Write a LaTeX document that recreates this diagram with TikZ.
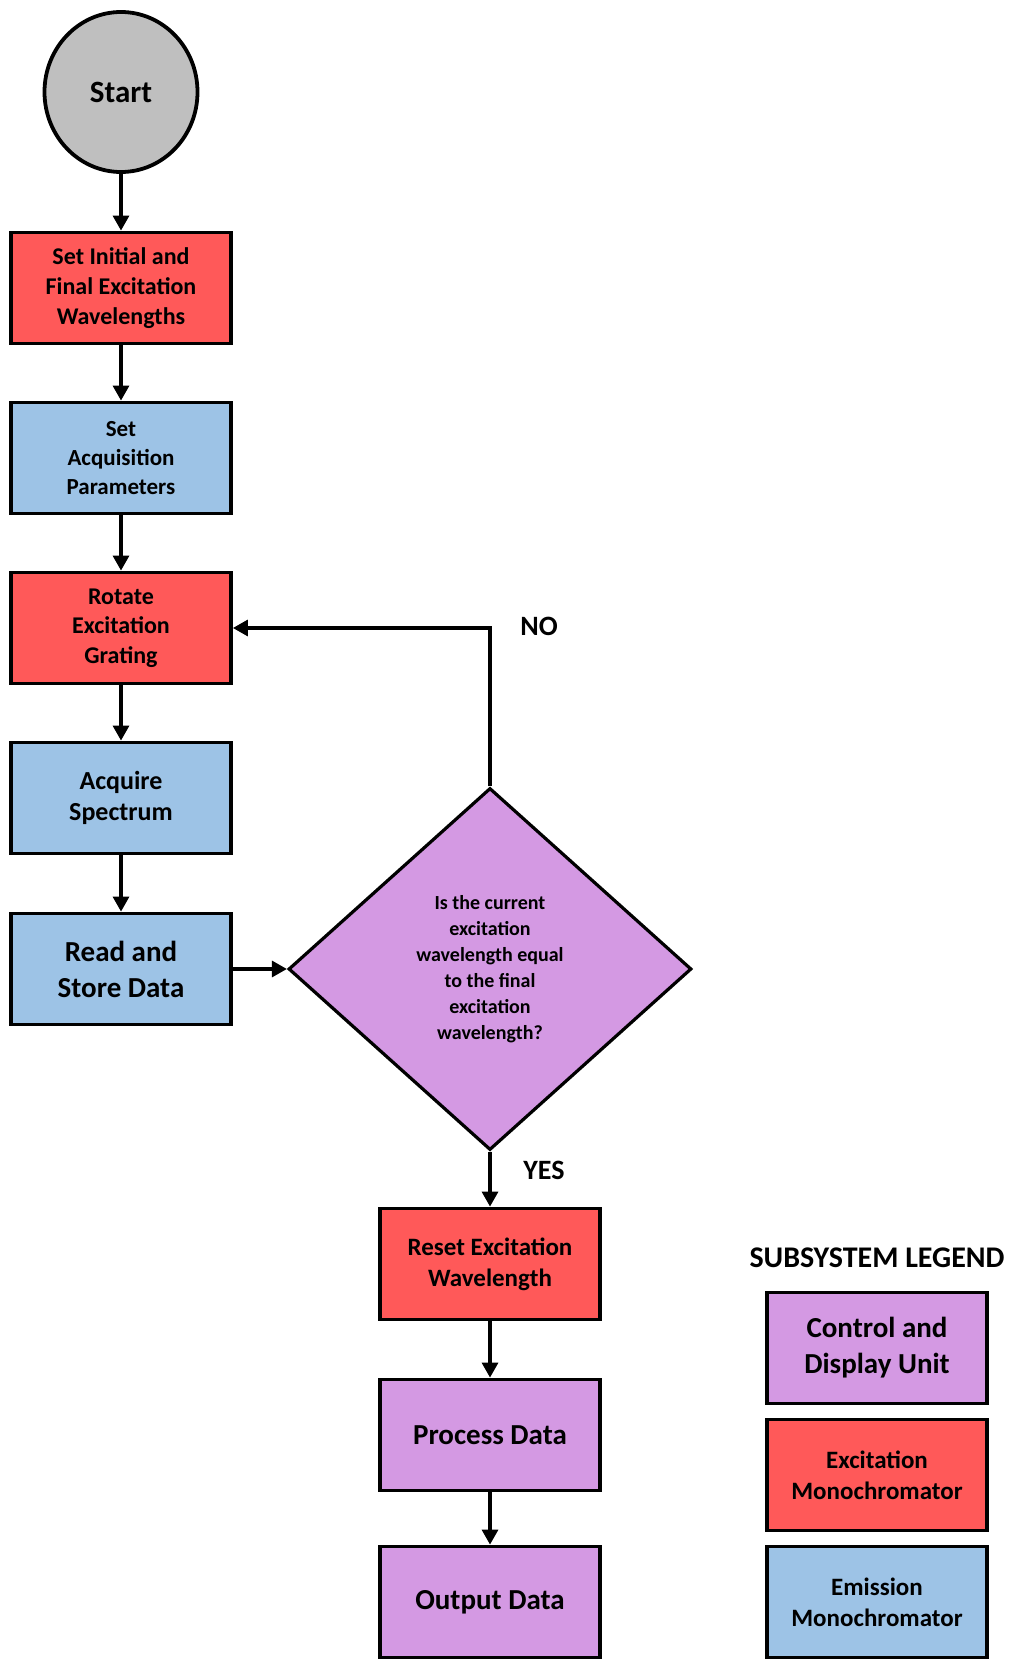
\documentclass[tikz,border=0pt]{standalone}
\usepackage{fontspec}
\setmainfont{Carlito}
\usetikzlibrary{arrows.meta,shapes.geometric}
\definecolor{ExcRed}{RGB}{255,89,89}
\definecolor{EmBlue}{RGB}{157,195,230}
\definecolor{CtrlPurple}{RGB}{212,153,227}
\definecolor{StartGrey}{RGB}{191,191,191}
\tikzset{
  BoxStyle/.style = { rectangle, draw, line width = 3.8pt,
                      minimum width = 220pt, minimum height = 111pt,
                      align = center, inner sep = 2pt },
  RedBox/.style    = { BoxStyle, fill = ExcRed },
  BlueBox/.style   = { BoxStyle, fill = EmBlue },
  PurpleBox/.style = { BoxStyle, fill = CtrlPurple },
  EdgeStyle/.style = { line width = 3.2pt, -{Triangle[width=16pt,length=15pt]} },
  LabelStyle/.style = { font = \bfseries\fontsize{28}{34}\selectfont } }

\begin{document}
\begin{tikzpicture}[x=1pt,y=-1pt]
  \useasboundingbox (0,0) rectangle (1018,1659);
  % main column
  \node[ellipse, draw, line width = 3.8pt, fill = StartGrey,
        minimum width = 153pt, minimum height = 160pt,
        font = \bfseries\fontsize{31}{36}\selectfont] (start) at (121,92) {Start};
  \node[RedBox, font = \bfseries\fontsize{24}{29.6}\selectfont] (init) at (121,288)
       {Set Initial and\\Final Excitation\\Wavelengths};
  \node[BlueBox, font = \bfseries\fontsize{23}{28.6}\selectfont] (acqpar) at (121,458)
       {Set\\Acquisition\\Parameters};
  \node[RedBox, font = \bfseries\fontsize{24}{29.6}\selectfont] (rotate) at (121,628)
       {Rotate\\Excitation\\Grating};
  \node[BlueBox, font = \bfseries\fontsize{26}{31.7}\selectfont] (spectrum) at (121,798)
       {Acquire\\Spectrum};
  \node[BlueBox, font = \bfseries\fontsize{29}{36}\selectfont] (store) at (121,969)
       {Read and\\Store Data};

  % decision
  \node[diamond, draw, line width = 3.2pt, fill = CtrlPurple, inner sep = 0pt,
        minimum width = 403pt, minimum height = 362pt, align = center,
        font = \bfseries\fontsize{20}{26}\selectfont] (check) at (490,969)
       {Is the current\\excitation\\wavelength equal\\to the final\\excitation\\wavelength?};

  % second column
  \node[RedBox, font = \bfseries\fontsize{25}{30.7}\selectfont] (reset) at (490,1264)
       {Reset Excitation\\Wavelength};
  \node[PurpleBox, font = \bfseries\fontsize{29}{36}\selectfont] (process) at (490,1435)
       {Process Data};
  \node[PurpleBox, font = \bfseries\fontsize{29}{36}\selectfont] (output) at (490,1602)
       {Output Data};

  % legend
  \node[font = \bfseries\fontsize{30}{36}\selectfont] (legend) at (877,1258)
       {SUBSYSTEM LEGEND};
  \node[PurpleBox, font = \bfseries\fontsize{29}{36}\selectfont] (lgctrl) at (877,1348)
       {Control and\\Display Unit};
  \node[RedBox, font = \bfseries\fontsize{25}{30.7}\selectfont] (lgexc) at (877,1475)
       {Excitation\\Monochromator};
  \node[BlueBox, font = \bfseries\fontsize{25}{30.7}\selectfont] (lgem) at (877,1602)
       {Emission\\Monochromator};

  \node[LabelStyle] (no) at (539,626) {NO};
  \node[LabelStyle] (yes) at (544,1170) {YES};

  \draw[EdgeStyle] (start) -- (init);
  \draw[EdgeStyle] (init) -- (acqpar);
  \draw[EdgeStyle] (acqpar) -- (rotate);
  \draw[EdgeStyle] (rotate) -- (spectrum);
  \draw[EdgeStyle] (spectrum) -- (store);
  \draw[EdgeStyle] (store) -- (check);
  \draw[EdgeStyle] (check.north) |- (rotate.east);
  \draw[EdgeStyle] (check) -- (reset);
  \draw[EdgeStyle] (reset) -- (process);
  \draw[EdgeStyle] (process) -- (output);
\end{tikzpicture}
\end{document}
